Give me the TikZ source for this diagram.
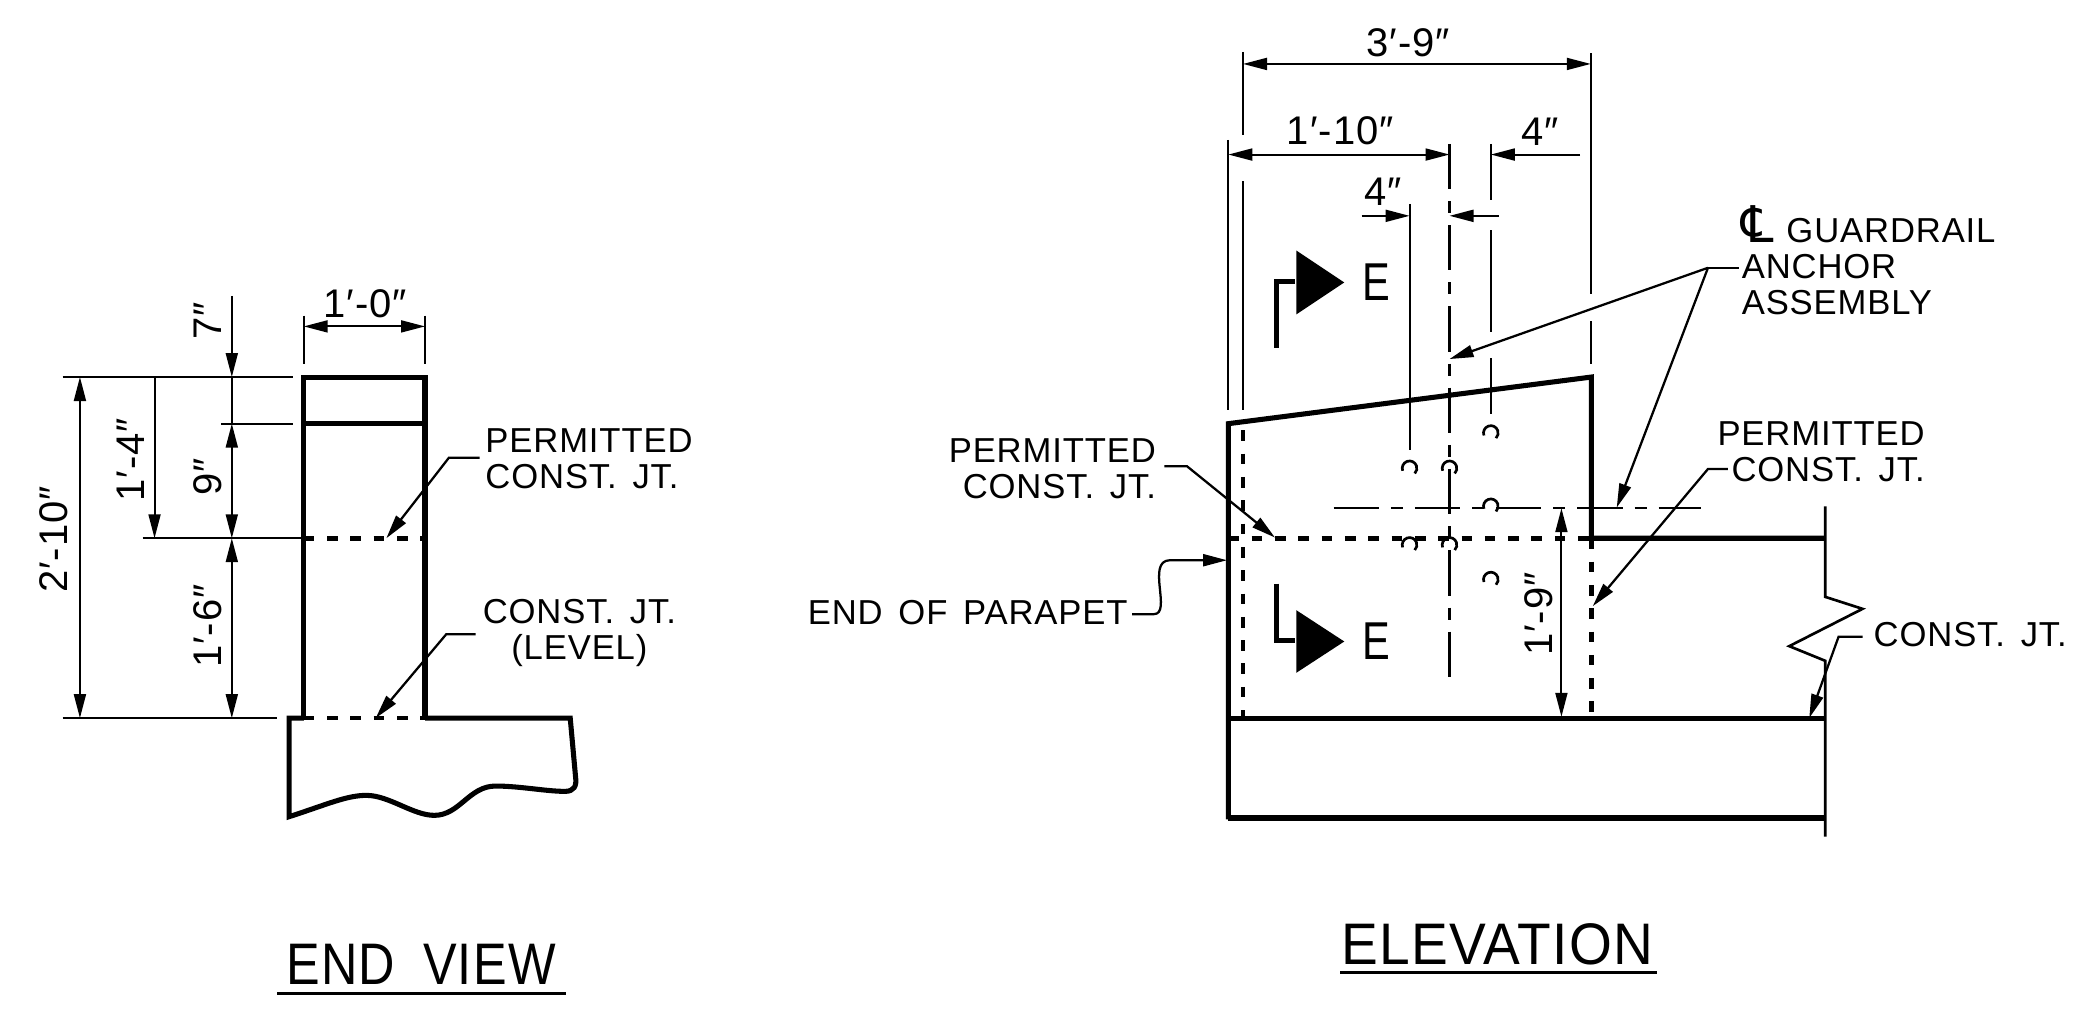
\documentclass[tikz,border=0pt]{standalone}
\usepackage{fontspec}
\setmainfont[LetterSpace=2.5,WordSpace=1.5]{Liberation Sans}
\newfontfamily\symbfont{DejaVu Sans}
\usetikzlibrary{arrows.meta}
\tikzset{
  wall/.style={line width=1.9pt},
  joint/.style={line width=1.7pt,dash pattern=on 4pt off 4.75pt},
  dim/.style={line width=0.72pt},
  chain/.style={line width=0.8pt,dash pattern=on 17pt off 4.5pt on 4.5pt off 4.5pt},
  leader/.style={line width=0.85pt},
  note/.style={font=\fontsize{13}{13.5}\selectfont,inner sep=0pt},
  size/.style={font=\fontsize{15}{16}\selectfont,inner sep=0pt},
  title/.style={font=\fontsize{22}{24}\selectfont,inner sep=0pt},
  markE/.style={font=\fontsize{20}{22}\selectfont,inner sep=0pt,xscale=0.78}
}
\begin{document}
\begin{tikzpicture}[x=0.5pt,y=-0.5pt,>={Triangle[length=9pt,width=4.5pt]}]
\useasboundingbox (0,0) rectangle (1568,765);
% end view
  \draw[wall] (228,539) -- (228,283) -- (319,283) -- (319,539);
  \draw[wall] (228,318) -- (319,318);
  \draw[joint] (228,404) -- (319,404);
  \draw[joint] (228,539) -- (319,539);
  \draw[wall] (228,539) -- (217,539) -- (217,613) .. controls (245,604) and (260,597) .. (275,597) .. controls (292,597) and (310,612) .. (326,612) .. controls (345,612) and (352,590) .. (372,590) .. controls (390,590) and (410,594) .. (424,594) .. controls (431,594) and (433,590) .. (432,583) -- (428,539) -- (319,539);
  \draw[dim] (228,237) -- (228,273);
  \draw[dim] (319,237) -- (319,273);
  \draw[dim,<->] (228,245) -- (319,245);
  \draw[dim] (47,283) -- (220,283);
  \draw[dim] (166,318) -- (220,318);
  \draw[dim] (107,404) -- (226,404);
  \draw[dim] (47,539) -- (208,539);
  \draw[dim,<->] (60,283) -- (60,539);
  \draw[dim,->] (116,283) -- (116,404);
  \draw[dim,->] (174,222) -- (174,283);
  \draw[dim] (174,283) -- (174,318);
  \draw[dim,<->] (174,318) -- (174,404);
  \draw[dim,<->] (174,404) -- (174,539);
  \node[size] (endwidth) at (274,228) {1′-0″};
  \node[size,rotate=90] (endseven) at (156,241) {7″};
  \node[size,rotate=90] (endnine) at (156,358) {9″};
  \node[size,rotate=90] (endbase) at (156,470) {1′-6″};
  \node[size,rotate=90] (endjoint) at (98,345) {1′-4″};
  \node[size,rotate=90] (endheight) at (40,405) {2′-10″};
  \node[note,anchor=west,align=left] (endperm) at (364,344.5) {PERMITTED\\CONST. JT.};
  \node[note,anchor=west,align=center] (endlevel) at (362,475) {CONST. JT.\\(LEVEL)};
  \coordinate (endpermtip) at (290,404);
  \coordinate (endleveltip) at (282,539);
  \draw[leader,->] (endperm.west) ++(-4,-1) -- ++(-23,0) -- (endpermtip);
  \draw[leader,->] (endlevel.west) ++(-5,1) -- ++(-22,0) -- (endleveltip);
  \node[title,xscale=0.86] (endtitle) at (316,724) {END\hspace{0.55em}VIEW};
  \draw[line width=1.1pt] (208,746) -- (425,746);
% elevation
  \draw[wall] (922,615) -- (922,318) -- (1194.5,283) -- (1194.5,404) -- (1370,404);
  \draw[wall] (922,539) -- (1370,539);
  \draw[wall] (922,614) -- (1370,614);
  \draw[line width=1pt] (1370,380) -- (1370,448) -- (1398,457) -- (1343,485) -- (1370,496) -- (1370,628);
  \draw[joint] (933,323) -- (933,539);
  \draw[joint] (922,404) -- (1194,404);
  \draw[joint] (1194.5,404) -- (1194.5,535);
  \draw[chain] (1088,108) -- (1088,508);
  \draw[chain] (1001,381.5) -- (1277,381.5);
  \draw[dim] (933,39) -- (933,101);
  \draw[dim] (933,136) -- (933,308);
  \draw[dim] (922,105) -- (922,308);
  \draw[dim] (1194,40) -- (1194,221);
  \draw[dim] (1194,241) -- (1194,273);
  \draw[dim] (1119,108) -- (1119,150);
  \draw[dim] (1119,173) -- (1119,249);
  \draw[dim] (1119,269) -- (1119,311);
  \draw[dim] (1058,153) -- (1058,338);
  \foreach \mx/\my in {1119/325,1058/351.5,1088/351.5,1119/380,1058/409,1088/409,1119/435}
    \draw[line width=1pt] ([shift={(200:2.75pt)}]\mx,\my) arc (200:-45:2.75pt);
  \draw[dim,<->] (933,48) -- (1194,48);
  \draw[dim,<->] (922,116) -- (1088,116);
  \draw[dim,->] (1186,116) -- (1119,116);
  \draw[dim,->] (1022,162) -- (1058,162);
  \draw[dim,->] (1125,162) -- (1088,162);
  \draw[dim,<->] (1172,381.5) -- (1172,538);
  \node[size] (spanall) at (1057,32) {3′-9″};
  \node[size] (spanleft) at (1006,98) {1′-10″};
  \node[size] (spanright) at (1156,99) {4″};
  \node[size] (spaninner) at (1038,144) {4″};
  \node[size,rotate=90] (anchorht) at (1155,461) {1′-9″};
% section marks
  \draw[line width=2pt] (972,211.5) -- (958,211.5) -- (958,261.5);
  \fill (973,188) -- (973,236) -- (1009,212) -- cycle;
  \node[markE,anchor=west] (markup) at (1022,212) {E};
  \draw[line width=2pt] (958,438) -- (958,481) -- (972,481);
  \fill (973,458) -- (973,505) -- (1009,481.5) -- cycle;
  \node[markE,anchor=west] (markdown) at (1022,481.5) {E};
% notes
  \node[note,anchor=west,align=left] (guardrail) at (1307,200) {\smash{\symbfont\fontsize{19}{13.5}\selectfont ℄}\hspace{0.35em}GUARDRAIL\\ANCHOR\\ASSEMBLY};
  \coordinate (guardtipa) at (1088,269.5);
  \coordinate (guardtipb) at (1213.5,381);
  \coordinate (guardknee) at (1282,201);
  \draw[leader] (guardrail.west) ++(-2,1) -- (guardknee);
  \draw[leader,->] (guardknee) -- (guardtipa);
  \draw[leader,->] (guardknee) -- (guardtipb);
  \node[note,anchor=east,align=right] (permright) at (1445,339) {PERMITTED\\CONST. JT.};
  \coordinate (permrighttip) at (1195.5,455);
  \draw[leader,->] (1297,352) -- (1282,352) -- (permrighttip);
  \node[note,anchor=east,align=right] (permleft) at (868,351.5) {PERMITTED\\CONST. JT.};
  \coordinate (permlefttip) at (957,403.5);
  \draw[leader,->] (permleft.east) ++(6,-1.5) -- (891,350) -- (permlefttip);
  \node[note,anchor=west] (parapet) at (606,460) {END OF PARAPET};
  \coordinate (parapettip) at (921,420.5);
  \draw[leader,->] (parapet.east) ++(3,1) -- (866,461) .. controls (880,461) and (860,421) .. (878,420.5) -- (parapettip);
  \node[note,anchor=west] (joint) at (1406,476) {CONST. JT.};
  \coordinate (jointtip) at (1358,539);
  \draw[leader,->] (joint.west) ++(-8,2) -- (1380,478) -- (jointtip);
  \node[title,xscale=0.94] (elevtitle) at (1124,709) {ELEVATION};
  \draw[line width=1.1pt] (1006,730) -- (1244,730);
\end{tikzpicture}
\end{document}
